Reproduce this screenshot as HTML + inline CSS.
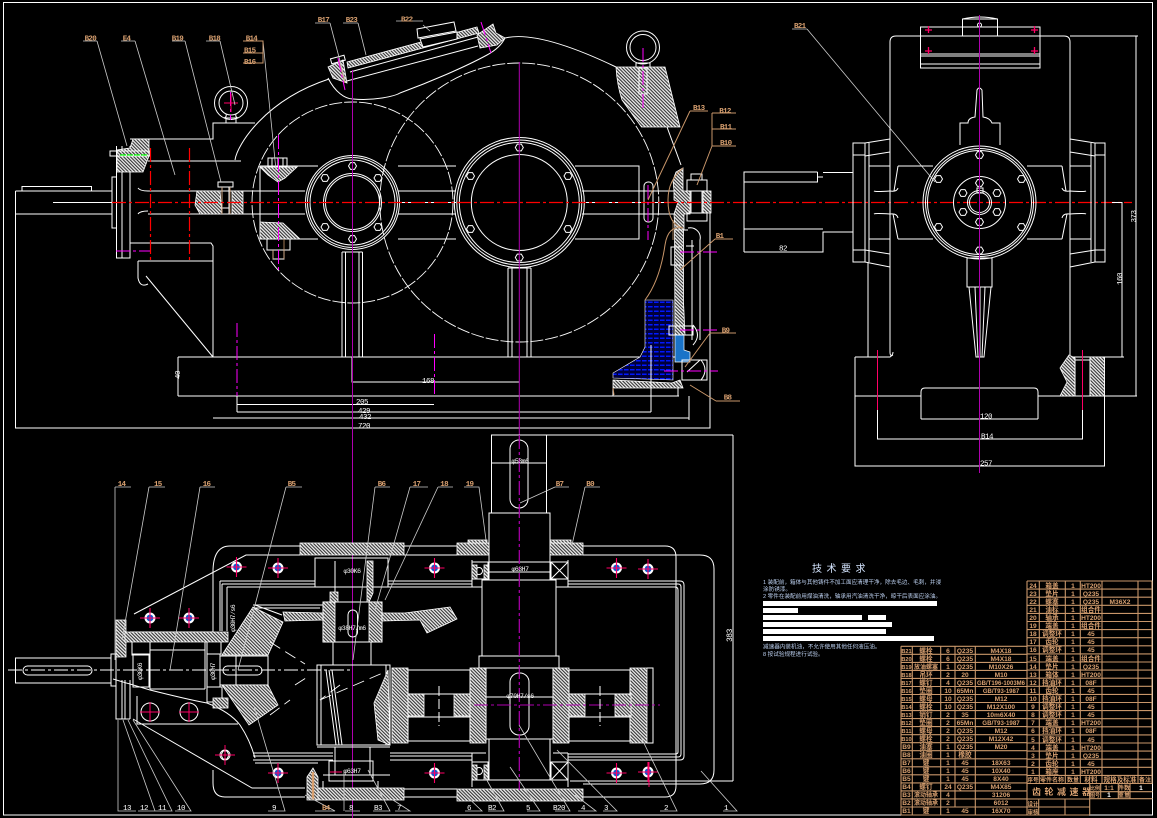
<!DOCTYPE html>
<html><head><meta charset="utf-8"><style>
html,body{margin:0;padding:0;background:#000}
svg{display:block;font-family:"Liberation Sans","Noto Sans CJK SC",sans-serif}
.w{fill:none;stroke:#fff;stroke-width:1}
.l{fill:none;stroke:#ccc;stroke-width:.8}
.t{fill:none;stroke:#c8966a;stroke-width:1}
.r{fill:none;stroke:#f00;stroke-width:1.2;stroke-dasharray:14 3 3 3}
.m{fill:none;stroke:#f0f;stroke-width:1;stroke-dasharray:14 3 3 3}
.p{fill:none;stroke:#b000b0;stroke-width:1}
.x{fill:none;stroke:#f06;stroke-width:1}
.d{fill:none;stroke:#fff;stroke-width:.9;stroke-dasharray:13 2}
.cl{fill:none;stroke:#fff;stroke-width:1;stroke-dasharray:14 3 3 3}
.h{fill:url(#hat);stroke:#fff;stroke-width:.8}
.lb{fill:#d8a070;font-size:7.5px;letter-spacing:-.7px;font-family:"Liberation Mono",monospace;font-weight:bold}
.dm{fill:#fff;font-size:7.5px;letter-spacing:-.5px;font-family:"Liberation Mono",monospace}
.tb{fill:#d8a070;font-size:6.6px;font-weight:bold;text-anchor:middle;font-family:"Liberation Sans","Noto Sans CJK SC",sans-serif}
.rq{fill:#bcd0f0;font-size:5.6px}
</style></head><body>
<svg width="1157" height="818" viewBox="0 0 1157 818" xmlns="http://www.w3.org/2000/svg">
<defs>
<pattern id="hat" width="2.4" height="2.4" patternUnits="userSpaceOnUse" patternTransform="rotate(45)"><rect width="2.4" height="2.4" fill="#333"/><rect width="2.4" height="1.3" fill="#eee"/></pattern>
<pattern id="oil" width="6" height="4.5" patternUnits="userSpaceOnUse"><rect width="6" height="4.5" fill="#00003c"/><rect width="4.6" height="1.5" fill="#0018ff"/></pattern>
<g id="hex6"><polygon points="-4,0 -2,-3.4 2,-3.4 4,0 2,3.4 -2,3.4" class="w"/></g>
<g id="blt"><circle r="5.5" fill="#fff"/><circle r="3.4" fill="#0a5ad0"/><path d="M-10 0H10M0-10V10" class="x" style="stroke-width:1.1"/></g>
</defs>
<rect width="1157" height="818" fill="#000"/>
<rect x="3.5" y="2.5" width="1149" height="812.5" class="w"/>

<!-- FRONT VIEW -->
<g class="w">
<path d="M15.5 191H112M15.5 214H112M15.5 191V428H710V191M22 190.5V186.5H91.5V190.5M53 202.5H112"/>
<rect x="112" y="177" width="4.5" height="51"/>
<path d="M116.5 146V258H130V146M122 146V258M130 172V240"/>
<path d="M130 139H213V123H255M213 123V139M148 161H241M235 160C237 145 265 100 329 79M138 188Q140 191 148 191H305M138 214Q140 211 148 211M148 214H305M138 261V278Q140 288 148 284M146 276L213 357"/>
<path d="M130 243H211L213 246V357M138 261H213"/>
<path d="M260 166H318M260 239H318M260 166V239M398 166H456M398 239H456M575 166H639V239H575M398 191H456M398 214H456M398 202.5H456M582 191H674M582 214H674M582 202.5H674"/>
<path d="M342 252V357M345.5 252V357M359 252V357M362.5 252V357M508 268V357M512 268V357M527 268V357M531 268V357"/>
<path d="M178 357H680M178 396H679M178 357V396M352 357V382H519M237 404.5H434M237 396V412M237 412H651M213 418H689M689 396V420M651 345V412M678 396V385"/>
<path d="M328 78C335 92 345 99 353 99C375 101 395 96 400 93C430 82 465 67 487 55Q500 48 505 38C530 32 570 45 616 67"/>
<path d="M667 127 L681 165"/>
<path d="M350 72L478 37M343 82L478 46"/>
</g>
<circle cx="352.5" cy="202.5" r="100.5" class="d"/>
<circle cx="519.3" cy="202.5" r="139.5" class="d"/>
<g class="w">
<circle cx="352.5" cy="202.5" r="47"/><circle cx="352.5" cy="202.5" r="45"/><circle cx="352.5" cy="202.5" r="42.5"/><circle cx="352.5" cy="202.5" r="29"/><circle cx="352.5" cy="202.5" r="27"/>
<circle cx="519.3" cy="202.5" r="65"/><circle cx="519.3" cy="202.5" r="62.5"/><circle cx="519.3" cy="202.5" r="60"/><circle cx="519.3" cy="202.5" r="48"/>
<path d="M342 252H362.5M508 268H531"/>
</g>
<use href="#hex6" x="352.5" y="166"/><use href="#hex6" x="352.5" y="239"/><use href="#hex6" x="325" y="178"/><use href="#hex6" x="378" y="178"/><use href="#hex6" x="325" y="227"/><use href="#hex6" x="378" y="227"/>
<use href="#hex6" x="519.3" y="147.5"/><use href="#hex6" x="519.3" y="257.5"/><use href="#hex6" x="470.5" y="176"/><use href="#hex6" x="568" y="176"/><use href="#hex6" x="470.5" y="229"/><use href="#hex6" x="568" y="229"/>

<!-- hatching front -->
<polygon class="h" points="133,139 149,139 149,156 143,172 117,172 117,150 130,148"/>
<polygon class="h" points="197,191 220,191 222,214 200,214 195,205"/>
<polygon class="h" points="232,191 243,191 243,214 232,214"/>
<polygon class="h" points="260,167 297,167 285,178 278,182 268,175"/>
<polygon class="h" points="260,222 283,223 300,239 260,239"/>
<path class="h" d="M616 67H665L680 127H641.5L622 100Q617 85 616 67Z"/>
<polygon class="h" points="683,168 676,172 673,180 674,191 674,200 678,202 674,214 675,230 684,230 684,214 690,214 690,191 683,191"/>
<rect class="h" x="703" y="191" width="8" height="22"/>
<polygon class="h" points="674.5,230 683.5,230 683.5,302 685,335 675,335"/>
<polygon points="645,300 673,300 673,380 613,378 613,373 640,357 645,347" fill="url(#oil)" stroke="#fff" stroke-width=".6"/>
<polygon class="h" points="613,380 672,383 680,380 683,388 613,388"/>
<polygon points="675,335 684,335 684,350 690,352 690,362 675,362" fill="#1a73c8" stroke="#fff" stroke-width=".7"/>
<polygon class="h" points="347,62 477,27 479,33 348,68"/>
<path class="h" d="M328 67L343 60L347 83L333 78Z"/>
<polygon class="h" points="477,35 493,24 496,33 505,38 497,45 480,48"/>
<g class="w">
<polygon points="417,29 454,22 456,31 418,38" fill="#000"/><polygon points="420,39 457,32 457,39 423,47" fill="#000"/>
<rect x="331" y="57" width="14" height="5" transform="rotate(-15 338 60)"/>
<rect x="110" y="151" width="40" height="5"/>
<rect x="218" y="182" width="15" height="5"/><path d="M222 187V214M229 187V214M222 208H229"/>
<rect x="268" y="158" width="19" height="9"/><path d="M272 158V167M278 158V167M283 158V167"/>
<rect x="267" y="239" width="23" height="11"/><rect x="273" y="250" width="11" height="9"/>
<circle cx="231" cy="103" r="16.5"/><circle cx="231" cy="103" r="12"/>
<path d="M224 118Q227 117 226 114M238 118Q235 117 236 114M224 118H238M226 123V118M236 123V118"/>
<circle cx="643" cy="47.5" r="16.5"/><circle cx="643" cy="47.5" r="13"/>
<path d="M636 63H650V67M636 63V67"/>
<rect x="639" y="68" width="8" height="26"/>
<rect x="644" y="182" width="9" height="40" rx="4"/>
<rect x="691" y="174" width="11" height="6"/><rect x="687" y="180" width="20" height="11"/><rect x="691" y="191" width="11" height="22"/><rect x="687" y="213" width="20" height="8"/>
<path d="M684 230H688M688 228A10 10 0 0 1 700 240V340M692 240V340M682 265H671V247H682M686 246H694M687 372L700 360M682 360H707V380H682Z"/>
<rect x="669" y="326" width="24" height="9"/>
<path d="M693 325Q702 335 693 345M701 360Q709 370 701 380"/>
<path d="M651 345V412M613 388V396"/>
</g>
<path d="M120 155H147" stroke="#0f0" stroke-width="1.3" stroke-dasharray="6 1"/>
<path d="M273 250V259M284 239V259M222 187V214M230 187V214M339 60L345 83M673 220V240" class="t" style="stroke-width:.8"/>
<g class="r">
<path d="M112 202.5H1132"/>
<path d="M150.5 148V262M189.5 148V262"/>
</g>
<path d="M116 251H150" class="m"/>
<g class="m">
<path d="M237 323V396M434.5 334V396M278.5 135V270M648 185V240M230.5 92V120M643 48V108"/>
<path d="M680 252H719M680 330H719M664 371H718"/>
<path d="M338 58L345 90M481 22L491 53"/>
</g>
<path d="M352.5 70V818M519.3 62V435" class="p"/>
<path d="M224 103H238M231 94V112" class="x"/>

<!-- leaders front -->
<g class="l">
<path d="M97 41L127 146M135 41L175 175M185 41L221 182M220 41L235 105M263 41L276 170M330 23L345 80M358 23L366 55M423 25L430 31M807 29L935 182"/>
<path d="M83 41H97M121 41H135M172 41H185M206 41H220M315 23H330M343 23H358M396 21H423M792 29H807"/>
</g>
<g class="t">
<path d="M243 41H263V63H243M243 53H263"/>
<path d="M690 111H708M690 111L648 200M712 113V146M712 113H736M712 129H736M712 146H736M712 146L697 185M715 239H733M715 239L680 270M710 333H736M710 333L685 367M716 401H740M716 401L690 385"/>
<path d="M683 168Q668 180 668 200Q668 225 683 228Q668 225 665 245Q660 280 645 300"/>
<path d="M613 388L614 395"/>
</g>
<g class="lb">
<text x="84.6" y="40.5">B20</text><text x="122.7" y="40.5">E4</text><text x="171.7" y="40.5">B19</text><text x="208.7" y="40.5">B18</text><text x="245.7" y="40.5">B14</text><text x="244" y="52.5">B15</text><text x="244" y="64">B16</text><text x="317.7" y="22">B17</text><text x="345.7" y="22">B23</text><text x="401" y="21.7">B22</text><text x="794" y="28">B21</text>
<text x="693" y="110">B13</text><text x="719.3" y="113">B12</text><text x="720" y="129">B11</text><text x="720" y="145">B10</text><text x="715.7" y="238">B1</text><text x="721.7" y="332.7">B9</text><text x="723.7" y="399.7">B8</text>
</g>
<g class="dm">
<text x="428" y="383" text-anchor="middle">168</text><text x="362" y="404" text-anchor="middle">205</text><text x="364" y="413" text-anchor="middle">429</text><text x="365" y="419" text-anchor="middle">432</text><text x="364" y="428" text-anchor="middle">720</text>
<text transform="translate(180 379) rotate(-90)">40</text>
</g>

<!-- RIGHT VIEW -->
<g class="w">
<path d="M890 240V42Q890 36 896 36H1064Q1070 36 1070 42V355M890 240V352Q890 357 893 355"/>
<rect x="920.5" y="27" width="119.5" height="41"/><path d="M920 54H1040M920 56H1040M920 64H1040"/>
<rect x="962.5" y="19" width="35" height="17"/><path d="M962.5 19Q980 15 997.5 19"/><circle cx="979.5" cy="25" r="2"/>
<path d="M960 145V123H968Q968 118 975 117L977 90Q979 86 982 90L983 117Q990 118 992 123H1000V145"/>
<circle cx="979.5" cy="202.5" r="56.5"/><circle cx="979.5" cy="202.5" r="54"/><circle cx="979.5" cy="202.5" r="52"/>
<circle cx="979.5" cy="202.5" r="26"/><circle cx="979.5" cy="202.5" r="12"/><circle cx="979.5" cy="202.5" r="10"/>
<rect x="977" y="188" width="6" height="5"/>
<rect x="967" y="258" width="25" height="29"/>
<polygon points="969,287 976,357 984,357 991,287"/><path d="M975 287L978 357M980 287V357M985 287L982 357"/>
<path d="M853 143H865V262H853ZM853 155H865M853 250H865M869 143V262M865 143L890 139M865 156L890 152M865 250L890 254M865 262L890 267"/>
<path d="M1105 143H1095V262H1105ZM1095 155H1105M1095 250H1105M1091 143V262M1095 143L1070 139M1095 156L1070 152M1095 250L1070 254M1095 262L1070 267"/>
<path d="M869 166H890M869 239H890M1070 166H1091M1070 239H1091M869 166V239M1091 166V239"/>
<path d="M898 166L894 191M898 239L893 214M898 166H933M898 239H933M1062 166L1066 191M1062 239L1067 214M1062 166H1027M1062 239H1027"/>
<path d="M874 191Q875 192 890 191Q897 192 898 188M874 214Q875 213 890 214Q897 213 898 218M1086 191Q1085 192 1070 191Q1063 192 1062 188M1086 214Q1085 213 1070 214Q1063 213 1062 218"/>
<path d="M868 262V357M855 357H890Q893 355 893 352M855 357V466H1104.5V357H1070"/>
<path d="M855 396H921M1038 396H1137M921 419V392Q921 388 925 388H1034Q1038 388 1038 392V419M921 419H1038"/>
<path d="M877.5 407V439H1082.5V407M1070 36H1138M1112 202.5H1122V357M1070 357H1124M1136 36V396"/>
<path d="M817.5 172H744V252M817.5 172V182H744M817.5 177H823M823 172.5H853V232H823V252H744M744 229H823"/>
</g>
<use href="#hex6" x="979.5" y="155"/><use href="#hex6" x="979.5" y="250.5"/><use href="#hex6" x="938.5" y="179"/><use href="#hex6" x="1021.5" y="179"/><use href="#hex6" x="938.5" y="227"/><use href="#hex6" x="1021.5" y="227"/>
<use href="#hex6" x="979.5" y="183"/><use href="#hex6" x="979.5" y="222"/><use href="#hex6" x="963" y="193"/><use href="#hex6" x="997" y="193"/><use href="#hex6" x="963" y="212"/><use href="#hex6" x="997" y="212"/>
<polygon class="h" points="1069,355 1075,358 1075,396 1060,396 1067,382 1060,368"/>
<rect class="h" x="1090" y="357" width="14.5" height="39"/>
<g class="w"><path d="M1075 360H1090M1075 358V396M1090 358V396"/></g>
<path d="M979.5 15V473" class="p"/>
<path d="M877.5 350V410M1082.5 350V410" class="x"/>
<path d="M925 30h7M928.5 26v7M1031 30h7M1034.5 26v7M925 51h7M928.5 47v7M1031 51h7M1034.5 47v7" class="x" style="stroke-width:1.3"/>
<g class="dm"><text x="986" y="418.5" text-anchor="middle">120</text><text x="987" y="438.5" text-anchor="middle">B14</text><text x="986" y="465.5" text-anchor="middle">257</text><text x="783" y="250.5" text-anchor="middle">82</text>
<text transform="translate(1122 285) rotate(-90)">160</text><text transform="translate(1136 222.5) rotate(-90)">373</text></g>

<!-- PLAN VIEW -->
<g class="w">
<rect x="15.5" y="658" width="95.5" height="25"/><rect x="23" y="666" width="69" height="9" rx="4.5"/>
<rect x="111" y="654" width="5" height="32"/>
<path d="M116 657V719H130M122 680V719M125 680V719M130 680V719"/>
<path d="M134 614L246 555H300M213 592V572Q213 546 230 546H300M130 632H213V592M137 696V724H238M133 719L252 788H305M213 770V783Q213 797 225 797H305M113 679L150 690Q190 700 207 703Q230 712 240 725Q250 740 255 758"/>
<path d="M220 581H315M220 581V631M222 584V631M227 587V631M222 584H315M227 587H315"/>
<path d="M150 638H205M150 650H205M150 689H205M150 638V689M205 638V689"/>
<rect x="133" y="654" width="16" height="33"/><rect x="207" y="654" width="13" height="33"/><rect x="132" y="640" width="18" height="15"/><rect x="207" y="687" width="15" height="15"/><rect x="207" y="640" width="14" height="14"/>
<rect x="220" y="656" width="48" height="29"/><rect x="223" y="666" width="39" height="9" rx="4.5"/><path d="M236 656V685"/>
<path d="M255 605L282 615M255 608H320M253 605H323M255 763L318 763M253 753H333M253 756H333M253 760H333"/>
<path d="M315 558H388V587H315ZM335 561V600M368 561V600"/>
<path d="M323 602H382V642H323Z"/>
<rect x="348" y="610" width="9.5" height="27" rx="4.7"/>
<path d="M333 642V665M371 642V665M335 747V775M370 747V775"/>
<path d="M317 665H390V745H317ZM321 665V745M386 665V745"/>
<path d="M326 670L336 745M329 670L339 745M332 670L342 745"/>
<rect x="329" y="761" width="44" height="20"/>
<path d="M317 747H390M323 781V793M378 781V793M323 775H390"/>
<rect x="491.5" y="435" width="55" height="78"/><rect x="489" y="513" width="61" height="67"/>
<rect x="482" y="580" width="74" height="76"/><rect x="479" y="656" width="80" height="12"/>
<rect x="510" y="440" width="18" height="68" rx="9"/><rect x="510" y="673" width="19" height="62" rx="9"/>
<path d="M489 562H550M489 572H550M492 463H546"/>
<path d="M489 739H550V780H489Z"/>
<rect x="486" y="668" width="67" height="71"/>
<path d="M486 697H553"/>
<rect x="472" y="562" width="16" height="17"/><rect x="551" y="562" width="17" height="17"/>
<path d="M472 560V587M568 560V587M472 587H482M556 587H568"/>
<path d="M551 562L568 579M568 562L551 579"/>
<circle cx="479" cy="571" r="3.5"/>
<rect x="472" y="762" width="16" height="18"/><rect x="551" y="762" width="17" height="18"/><path d="M551 762L568 780M568 762L551 780"/><circle cx="479" cy="771" r="3.5"/>
<path d="M472 753V787M568 753V787M472 753H486M553 753H568"/>
<path d="M583 546H665Q676 546 676 557V786Q676 797 665 797H583"/>
<path d="M583 555H700Q714 555 714 569V770Q714 784 700 784H583"/>
<path d="M568 581H680Q684 581 684 585V756Q684 760 680 760H568M568 584H678Q681 584 681 587V754Q681 757 678 757H568M568 587H675Q678 587 678 590V752Q678 754 675 754H568"/>
<path d="M404 546H457M404 555H457M388 581H472M388 584H472M388 587H472"/>
<path d="M390 753H472M390 756H472M390 760H472M404 789H457M404 797H457"/>
<path d="M492 435H733M733 435V781M570 781H733"/>
</g>
<!-- plan hatch -->
<rect class="h" x="300" y="543" width="104" height="12"/>
<rect class="h" x="457" y="543" width="32" height="12"/><rect class="h" x="550" y="543" width="33" height="12"/>
<rect class="h" x="468" y="540" width="19" height="3"/><rect class="h" x="550" y="540" width="21" height="3"/>
<rect class="h" x="316" y="788" width="88" height="12"/><rect class="h" x="457" y="789" width="126" height="12"/>
<polygon class="h" points="116,620 126,620 126,657 116,657"/>
<polygon class="h" points="125,632 228,632 228,642 125,642"/>
<polygon class="h" points="253,607 283,622 275,640 268,655 222,655"/>
<polygon class="h" points="222,685 268,685 278,705 249,725"/>
<rect class="h" x="213" y="698" width="15" height="10"/>
<rect class="h" x="323" y="602" width="12" height="40"/><rect class="h" x="369" y="602" width="13" height="40"/>
<polygon class="h" points="283,612 323,613 323,620 285,621"/>
<polygon class="h" points="382,613 405,613 450,607 457,619 427,633 420,620 382,621"/>
<polygon class="h" points="330,592 338,592 338,602 330,602"/><polygon class="h" points="367,561 373,561 373,593 369,602 367,602"/>
<polygon class="h" points="374,703 388,670 390,745 378,740"/>
<rect class="h" x="392" y="668" width="16" height="75"/><rect class="h" x="470" y="668" width="16" height="75"/>
<rect class="h" x="408" y="694" width="16" height="22"/><rect class="h" x="454" y="694" width="16" height="22"/>
<rect class="h" x="553" y="668" width="16" height="75"/><rect class="h" x="630" y="668" width="17" height="75"/>
<rect class="h" x="569" y="694" width="16" height="22"/><rect class="h" x="615" y="694" width="16" height="22"/>
<rect class="h" x="472" y="565" width="5" height="14"/><rect class="h" x="484" y="565" width="4" height="14"/>
<rect class="h" x="472" y="765" width="5" height="15"/><rect class="h" x="484" y="765" width="4" height="15"/>
<polygon class="h" points="307,777 313,768 318,777 318,800 307,800"/>
<g class="w">
<rect x="408" y="670" width="62" height="24"/><rect x="408" y="717" width="62" height="24"/>
<rect x="569" y="670" width="61" height="24"/><rect x="569" y="717" width="61" height="24"/>
<path d="M647 668H653V743H647"/>
</g>
<path d="M8 670H352" class="cl"/>
<path d="M270 642L305 664M295 685L306 678M270 715L290 700M340 685L320 700M320 700L385 672" class="cl" style="stroke-width:.9;stroke-dasharray:12 6"/>
<path d="M474 705H660" class="p" style="stroke-dasharray:14 3 3 3"/>
<path d="M519.3 435V790" class="p" style="stroke-dasharray:14 3 3 3;stroke-width:1.2"/>
<path d="M439 686V726M600 686V726" class="cl" style="stroke-dasharray:10 3"/>
<path d="M313 772V800" stroke="#d8a070" stroke-width="2.4" fill="none"/>
<use href="#blt" x="278" y="568"/><use href="#blt" x="150" y="618"/><use href="#blt" x="189" y="618"/><use href="#blt" x="236.5" y="567"/>
<use href="#blt" x="434.5" y="568"/><use href="#blt" x="616.5" y="568"/><use href="#blt" x="278" y="773"/><use href="#blt" x="434.5" y="773"/><use href="#blt" x="616.5" y="773"/><use href="#blt" x="648" y="569"/><use href="#blt" x="648" y="772"/>
<g class="w"><circle cx="150" cy="712" r="9"/><circle cx="189" cy="712" r="9"/><polygon points="221,755 223,751 227,751 229,755 227,759 223,759"/><circle cx="225" cy="755" r="5"/></g>
<path d="M140 712H160M150 702V722M179 712H199M189 702V722M215 755H235M225 745V765M330 772H342M649 762V787" class="x"/>
<g class="dm" style="font-size:6.5px">
<text x="352" y="573" text-anchor="middle">φ30K6</text><text x="520" y="463" text-anchor="middle">φ53m6</text><text x="520" y="571" text-anchor="middle">φ63H7</text><text x="520" y="698" text-anchor="middle">φ70H7/s6</text><text x="352" y="630" text-anchor="middle">φ38H7/m6</text><text x="352" y="773" text-anchor="middle">φ63H7</text>
<text transform="translate(142 680) rotate(-90)">φ30K6</text><text transform="translate(215 680) rotate(-90)">φ30H7</text><text transform="translate(235 632) rotate(-90)">φ30H7/s6</text><text transform="translate(732 642) rotate(-90)" style="font-size:8px">383</text>
</g>
<g class="l">
<path d="M115 487V660M149 487L122 640M200 487L170 670M286 487L238 670M375 487L353 660M410 487L375 610M438 487L385 600M464 487H479L486 540M555 487L520 503M585 487L572 545"/>
<path d="M115 487H131M149 487H165M200 487H215M286 487H302M375 487H390M410 487H428M438 487H453M555 487H569M585 487H600"/>
<path d="M118 720V811H136M138 811H155L123 720M155 811H172L128 720M175 811H191L133 720M268 811H285L254 706M315 811H335L305 795M345 811H360M344 770V811M373 811H390L368 770M395 811H410L393 800M465 811H482L460 790M488 811H504L484 775M527 811H540L510 767M555 811H570L519 725M578 811H596L575 795M603 811H617L557 750M660 811H677L640 735M723 811H737L701 771"/>
</g>
<g class="lb">
<text x="117.7" y="486">14</text><text x="154" y="486">15</text><text x="202.7" y="486">16</text><text x="287.7" y="486">B5</text><text x="377.7" y="486">B6</text><text x="412.7" y="486">17</text><text x="440.3" y="486">18</text><text x="465.7" y="486">19</text><text x="555.7" y="486">B7</text><text x="586.3" y="486">B0</text>
</g>
<g class="dm">
<text x="123" y="810">13</text><text x="140" y="810">12</text><text x="158" y="810">11</text><text x="177" y="810">10</text><text x="272" y="810">9</text><text x="349" y="810">8</text><text x="374" y="810">B3</text><text x="397" y="810">7</text><text x="467" y="810">6</text><text x="488" y="810">B2</text><text x="526" y="810">5</text><text x="553" y="810">B20</text><text x="581" y="810">4</text><text x="604" y="810">3</text><text x="664" y="810">2</text><text x="724" y="810">1</text>
</g>
<text x="322" y="810" class="lb">B4</text>

<!-- TECH REQ -->
<text x="812" y="572" fill="#d5e5ff" font-size="10" letter-spacing="4.5">技术要求</text>
<g class="rq">
<text x="763" y="584">1 装配前，箱体与其他铸件不加工面应清理干净，除去毛边、毛刺，并浸</text>
<text x="763" y="591">涂防锈漆。</text>
<text x="763" y="598">2 零件在装配前用煤油清洗，轴承用汽油清洗干净，晾干后表面应涂油。</text>
<text x="763" y="648.5">减速器内装机油，不允许使用其他任何液压油。</text>
<text x="763" y="656">8 按试验规程进行试验。</text>
</g>
<g fill="#fff">
<rect x="763" y="601" width="174" height="5"/><rect x="763" y="608" width="35" height="5"/><rect x="763" y="615" width="99" height="5"/><rect x="868" y="615" width="18" height="5"/><rect x="763" y="622" width="129" height="5"/><rect x="763" y="629" width="123" height="5"/><rect x="763" y="636" width="171" height="5"/>
</g>

<!-- TABLES -->
<g class="t" style="stroke-width:1.1">
<path d="M1027 581H1152.5M1027 589.1H1152.5M1027 597.2H1152.5M1027 605.3H1152.5M1027 613.4H1152.5M1027 621.5H1152.5M1027 629.6H1152.5M1027 637.7H1152.5M1027 645.8H1152.5M1027 653.9H1152.5M1027 662H1152.5M1027 670.1H1152.5M1027 678.2H1152.5M1027 686.3H1152.5M1027 694.4H1152.5M1027 702.5H1152.5M1027 710.6H1152.5M1027 718.7H1152.5M1027 726.8H1152.5M1027 734.9H1152.5M1027 743H1152.5M1027 751.1H1152.5M1027 759.2H1152.5M1027 767.3H1152.5M1027 775.4H1152.5M1027 783.5H1152.5"/>
<path d="M1027 581V815M1039.3 581V783.5M1065.3 581V783.5M1080.3 581V783.5M1102 581V783.5M1138 581V783.5M1152 581V783"/>
<path d="M901 646.3H1027M901 654.3H1027M901 662.4H1027M901 670.4H1027M901 678.4H1027M901 686.5H1027M901 694.5H1027M901 702.5H1027M901 710.6H1027M901 718.6H1027M901 726.6H1027M901 734.7H1027M901 742.7H1027M901 750.7H1027M901 758.8H1027M901 766.8H1027M901 774.8H1027M901 782.9H1027M901 790.9H1027M901 798.9H1027M901 807H1027M901 815H1089"/>
<path d="M901 646.3V815M912.3 646.3V815M940.7 646.3V815M955 646.3V807M975.3 646.3V815"/>
<path d="M1089.7 783.5V815M1100.7 783.5V798.7M1118.3 783.5V798.7M1130 783.5V798.7M1089.7 791.7H1152.5M1089.7 798.7H1152.5M1027 799H1089.7M1027 807H1089.7M1038.7 799V815M1065 799V815"/>
</g>
<g class="tb">
<text x="1033" y="588">24</text><text x="1052" y="588">箱盖</text><text x="1073" y="588">1</text><text x="1091" y="588">HT200</text>
<text x="1033" y="596">23</text><text x="1052" y="596">垫片</text><text x="1073" y="596">1</text><text x="1091" y="596">Q235</text>
<text x="1033" y="604">22</text><text x="1052" y="604">螺塞</text><text x="1073" y="604">1</text><text x="1091" y="604">Q235</text><text x="1120" y="604">M36X2</text>
<text x="1033" y="612">21</text><text x="1052" y="612">油标</text><text x="1073" y="612">1</text><text x="1091" y="612">组合件</text>
<text x="1033" y="620">20</text><text x="1052" y="620">轴承</text><text x="1073" y="620">1</text><text x="1091" y="620">HT200</text>
<text x="1033" y="628">19</text><text x="1052" y="628">端盖</text><text x="1073" y="628">1</text><text x="1091" y="628">组合件</text>
<text x="1033" y="636">18</text><text x="1052" y="636">调整环</text><text x="1073" y="636">1</text><text x="1091" y="636">45</text>
<text x="1033" y="644">17</text><text x="1052" y="644">齿轮</text><text x="1073" y="644">1</text><text x="1091" y="644">45</text>
<text x="1033" y="652">16</text><text x="1052" y="652">调整环</text><text x="1073" y="652">1</text><text x="1091" y="652">45</text>
<text x="1033" y="661">15</text><text x="1052" y="661">端盖</text><text x="1073" y="661">1</text><text x="1091" y="661">组合件</text>
<text x="1033" y="669">14</text><text x="1052" y="669">垫片</text><text x="1073" y="669">1</text><text x="1091" y="669">Q235</text>
<text x="1033" y="677">13</text><text x="1052" y="677">箱体</text><text x="1073" y="677">1</text><text x="1091" y="677">HT200</text>
<text x="1033" y="685">12</text><text x="1052" y="685">挡油环</text><text x="1073" y="685">1</text><text x="1091" y="685">08F</text>
<text x="1033" y="693">11</text><text x="1052" y="693">齿轮</text><text x="1073" y="693">1</text><text x="1091" y="693">45</text>
<text x="1033" y="701">10</text><text x="1052" y="701">挡油环</text><text x="1073" y="701">1</text><text x="1091" y="701">08F</text>
<text x="1033" y="709">9</text><text x="1052" y="709">调整环</text><text x="1073" y="709">1</text><text x="1091" y="709">45</text>
<text x="1033" y="717">8</text><text x="1052" y="717">调整环</text><text x="1073" y="717">1</text><text x="1091" y="717">45</text>
<text x="1033" y="725">7</text><text x="1052" y="725">端盖</text><text x="1073" y="725">1</text><text x="1091" y="725">HT200</text>
<text x="1033" y="733">6</text><text x="1052" y="733">挡油环</text><text x="1073" y="733">1</text><text x="1091" y="733">08F</text>
<text x="1033" y="742">5</text><text x="1052" y="742">调整环</text><text x="1073" y="742">1</text><text x="1091" y="742">45</text>
<text x="1033" y="750">4</text><text x="1052" y="750">端盖</text><text x="1073" y="750">1</text><text x="1091" y="750">HT200</text>
<text x="1033" y="758">3</text><text x="1052" y="758">垫片</text><text x="1073" y="758">1</text><text x="1091" y="758">Q235</text>
<text x="1033" y="766">2</text><text x="1052" y="766">齿轮</text><text x="1073" y="766">1</text><text x="1091" y="766">45</text>
<text x="1033" y="774">1</text><text x="1052" y="774">箱座</text><text x="1073" y="774">1</text><text x="1091" y="774">HT200</text>
<text x="1033" y="782" font-size="5.5">序号</text><text x="1052" y="782" font-size="6">零件名称</text><text x="1073" y="782" font-size="6">数量</text><text x="1091" y="782">材料</text><text x="1120" y="782">规格及标准</text><text x="1145" y="782" font-size="6">备注</text>
<text x="1032" y="795" font-size="9" letter-spacing="3.5" style="text-anchor:start">齿轮减速器</text>
<text x="1095" y="790" font-size="5">比例</text><text x="1109" y="790">1:1</text><text x="1124" y="790" font-size="6">件数</text><text x="1141" y="790" fill="#fff">1</text><text x="1095" y="797" font-size="5">图号</text><text x="1109" y="797" fill="#fff">1</text><text x="1124" y="797" font-size="6">重量</text>
<text x="1033" y="806" font-size="5.5">设计</text><text x="1033" y="814" font-size="5.5">审核</text>

<text x="906.5" y="653" font-size="5.6">B21</text><text x="926" y="653">螺栓</text><text x="948" y="653">6</text><text x="965" y="653">Q235</text><text x="1001" y="653">M4X18</text>
<text x="906.5" y="661" font-size="5.6">B20</text><text x="926" y="661">螺栓</text><text x="948" y="661">6</text><text x="965" y="661">Q235</text><text x="1001" y="661">M4X18</text>
<text x="906.5" y="669" font-size="5.6">B19</text><text x="926" y="669" font-size="6">放油螺塞</text><text x="948" y="669">1</text><text x="965" y="669">Q235</text><text x="1001" y="669">M10X26</text>
<text x="906.5" y="677" font-size="5.6">B18</text><text x="926" y="677">吊环</text><text x="948" y="677">2</text><text x="965" y="677">20</text><text x="1001" y="677">M10</text>
<text x="906.5" y="685" font-size="5.6">B17</text><text x="926" y="685">螺钉</text><text x="948" y="685">4</text><text x="965" y="685">Q235</text><text x="1001" y="685" font-size="6">GB/T196-1003M6</text>
<text x="906.5" y="693" font-size="5.6">B16</text><text x="926" y="693">垫圈</text><text x="948" y="693">10</text><text x="965" y="693">65Mn</text><text x="1001" y="693" font-size="6">GB/T93-1987</text>
<text x="906.5" y="701" font-size="5.6">B15</text><text x="926" y="701">螺母</text><text x="948" y="701">10</text><text x="965" y="701">Q235</text><text x="1001" y="701">M12</text>
<text x="906.5" y="709" font-size="5.6">B14</text><text x="926" y="709">螺栓</text><text x="948" y="709">10</text><text x="965" y="709">Q235</text><text x="1001" y="709">M12X100</text>
<text x="906.5" y="717" font-size="5.6">B13</text><text x="926" y="717">销钉</text><text x="948" y="717">2</text><text x="965" y="717">35</text><text x="1001" y="717">10m6X40</text>
<text x="906.5" y="725" font-size="5.6">B12</text><text x="926" y="725">垫圈</text><text x="948" y="725">2</text><text x="965" y="725">65Mn</text><text x="1001" y="725" font-size="6.2">GB/T93-1987</text>
<text x="906.5" y="733" font-size="5.6">B11</text><text x="926" y="733">螺母</text><text x="948" y="733">2</text><text x="965" y="733">Q235</text><text x="1001" y="733">M12</text>
<text x="906.5" y="741" font-size="5.6">B10</text><text x="926" y="741">螺栓</text><text x="948" y="741">2</text><text x="965" y="741">Q235</text><text x="1001" y="741">M12X42</text>
<text x="906.5" y="749">B9</text><text x="926" y="749">油塞</text><text x="948" y="749">1</text><text x="965" y="749">Q235</text><text x="1001" y="749">M20</text>
<text x="906.5" y="757">B8</text><text x="926" y="757">油圈</text><text x="948" y="757">1</text><text x="965" y="757">橡胶</text>
<text x="906.5" y="765">B7</text><text x="926" y="765">键</text><text x="948" y="765">1</text><text x="965" y="765">45</text><text x="1001" y="765">18X63</text>
<text x="906.5" y="773">B6</text><text x="926" y="773">键</text><text x="948" y="773">1</text><text x="965" y="773">45</text><text x="1001" y="773">10X40</text>
<text x="906.5" y="781">B5</text><text x="926" y="781">键</text><text x="948" y="781">1</text><text x="965" y="781">45</text><text x="1001" y="781">8X40</text>
<text x="906.5" y="789">B4</text><text x="926" y="789">螺钉</text><text x="948" y="789">24</text><text x="965" y="789">Q235</text><text x="1001" y="789">M4X85</text>
<text x="906.5" y="797">B3</text><text x="926" y="797" font-size="6">滚动轴承</text><text x="948" y="797">4</text><text x="1001" y="797">31206</text>
<text x="906.5" y="805">B2</text><text x="926" y="805" font-size="6">滚动轴承</text><text x="948" y="805">2</text><text x="1001" y="805">6012</text>
<text x="906.5" y="813">B1</text><text x="926" y="813">键</text><text x="948" y="813">1</text><text x="965" y="813">45</text><text x="1001" y="813">16X70</text>
</g>
</svg>
</body></html>
